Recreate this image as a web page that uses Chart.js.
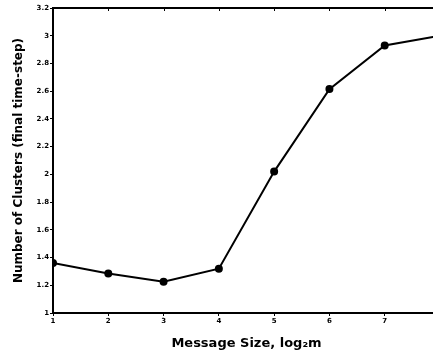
<!DOCTYPE html>
<html>
<head>
<meta charset="utf-8">
<script src="https://cdn.jsdelivr.net/npm/chart.js@4"></script>
<style>
    html, body { margin: 0; padding: 0; background: #fff; overflow: hidden; }
    #wrap { width: 446px; height: 357px; }
</style>
</head>
<body>
<div id="wrap"><canvas id="clusterCanvas"></canvas></div>
<script>
const messageSizes = [1, 2, 3, 4, 5, 6, 7, 8]
const clusterCounts = [1.36, 1.285, 1.225, 1.32, 2.02, 2.615, 2.93, 3.0]
const yTicks = [1, 1.2, 1.4, 1.6, 1.8, 2, 2.2, 2.4, 2.6, 2.8, 3, 3.2]

const tickFont = { family: 'DejaVu Sans', size: 7, weight: 'bold' }

// frame round the plot, with small ticks hanging from the top edge
const framePlugin = {
    id: 'frame',
    afterDraw(chart) {
        const { ctx, chartArea: a } = chart
        const xScale = chart.scales.x
        ctx.save()
        ctx.strokeStyle = '#000'
        ctx.lineWidth = 2
        ctx.strokeRect(a.left, a.top, a.right - a.left, a.bottom - a.top)
        ctx.lineWidth = 1
        messageSizes.forEach(v => {
            const px = Math.round(xScale.getPixelForValue(v)) + 0.5
            ctx.beginPath()
            ctx.moveTo(px, a.top)
            ctx.lineTo(px, a.top + 3)
            ctx.stroke()
        })
        ctx.restore()
    }
}

const data = {
    datasets: [{
        data: messageSizes.map((m, i) => ({ x: m, y: clusterCounts[i] })),
        borderColor: '#000',
        backgroundColor: '#000',
        borderWidth: 2,
        pointRadius: 3,
        pointBackgroundColor: '#000',
        tension: 0
    }]
}

new Chart(
    document.getElementById('clusterCanvas'),
    {
        type: 'line',
        data: data,
        plugins: [framePlugin],
        options: {
            responsive: true,
            maintainAspectRatio: false,
            animation: false,
            layout: { padding: { top: 8, right: 2 } },
            plugins: { legend: { display: false }, tooltip: { enabled: false } },
            scales: {
                x: {
                    type: 'linear',
                    min: 1,
                    max: 8,
                    afterFit: s => { s.height = 44 },
                    border: { color: '#000', width: 2 },
                    grid: { drawOnChartArea: false, color: '#000', tickLength: 3 },
                    ticks: {
                        stepSize: 1,
                        color: '#000',
                        font: tickFont,
                        padding: 1,
                        maxRotation: 0
                    },
                    title: {
                        display: true,
                        text: 'Message Size, log₂m',
                        color: '#000',
                        font: { family: 'DejaVu Sans', size: 13, weight: 'bold' },
                        padding: { top: 0, bottom: 6 }
                    }
                },
                y: {
                    min: 1,
                    max: 3.2,
                    afterFit: s => { s.width = 53 },
                    afterBuildTicks: s => { s.ticks = yTicks.map(v => ({ value: v })) },
                    border: { color: '#000', width: 2 },
                    grid: { drawOnChartArea: false, color: '#000', tickLength: 3 },
                    ticks: {
                        color: '#000',
                        font: tickFont,
                        padding: 1,
                        callback: v => String(Math.round(v * 10) / 10)
                    },
                    title: {
                        display: true,
                        text: 'Number of Clusters (final time-step)',
                        color: '#000',
                        font: { family: 'DejaVu Sans', size: 12, weight: 'bold' },
                        padding: { top: 12, bottom: 0 }
                    }
                }
            }
        }
    }
)
</script>
</body>
</html>
